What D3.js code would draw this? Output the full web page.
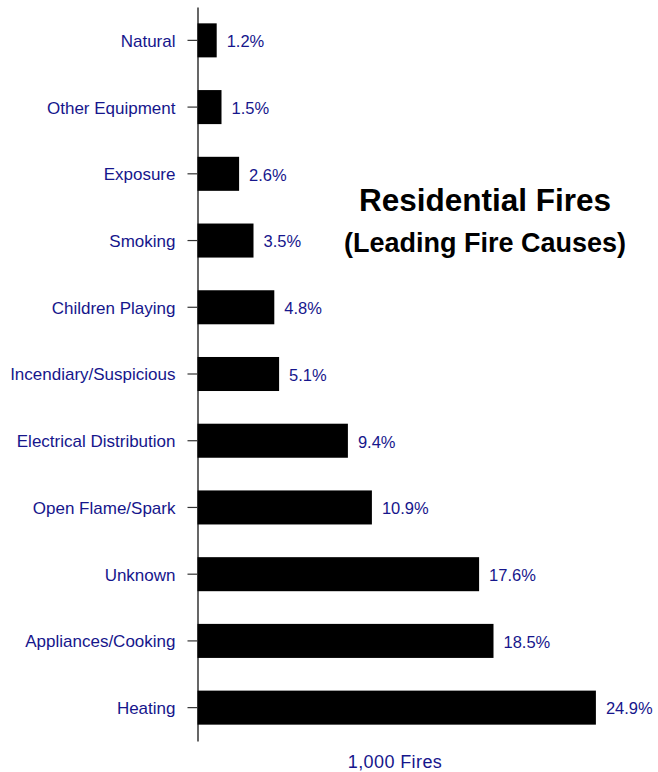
<!DOCTYPE html>
<html>
<head>
<meta charset="utf-8">
<script src="https://cdn.jsdelivr.net/npm/d3@7"></script>
<style>
  html, body { margin: 0; padding: 0; background: #ffffff; }
  svg { display: block; }
  text { font-family: "Liberation Sans", Arial, Helvetica, sans-serif; }
</style>
</head>
<body>
<svg id="chart" width="658" height="772"></svg>
<script>
const categories = ["Natural", "Other Equipment", "Exposure", "Smoking", "Children Playing",
  "Incendiary/Suspicious", "Electrical Distribution", "Open Flame/Spark", "Unknown",
  "Appliances/Cooking", "Heating"];
const values = [1.2, 1.5, 2.6, 3.5, 4.8, 5.1, 9.4, 10.9, 17.6, 18.5, 24.9];
const valueLabels = ["1.2%", "1.5%", "2.6%", "3.5%", "4.8%", "5.1%", "9.4%", "10.9%", "17.6%", "18.5%", "24.9%"];
const title = "Residential Fires";
const subtitle = "(Leading Fire Causes)";
const axisTitle = "1,000 Fires";

const navy = "#16168c";
const svg = d3.select("#chart");

const x = d3.scaleLinear().domain([0, 25]).range([197.5, 597.5]);
const y = d3.scaleBand().domain(categories).range([7, 741]).paddingInner(0.49).paddingOuter(0.245);

const data = categories.map((c, i) => ({ c, v: values[i], l: valueLabels[i] }));

svg.selectAll("rect.bar").data(data).join("rect")
  .attr("class", "bar")
  .attr("x", x(0))
  .attr("y", d => y(d.c))
  .attr("width", d => x(d.v) - x(0))
  .attr("height", y.bandwidth())
  .attr("fill", "#000");

svg.selectAll("text.val").data(data).join("text")
  .attr("class", "val")
  .attr("x", d => x(d.v) + 10)
  .attr("y", d => y(d.c) + y.bandwidth() / 2 + 1)
  .attr("dy", "0.35em")
  .attr("fill", navy)
  .attr("font-size", "16.5px")
  .text(d => d.l);

const axis = svg.append("g")
  .attr("transform", `translate(${x(0)},0)`)
  .call(d3.axisLeft(y).tickSize(10).tickSizeOuter(0).tickPadding(12));
axis.select(".domain").attr("stroke", "#000").attr("stroke-width", 1.2);
axis.selectAll(".tick line").attr("stroke", "#333").attr("stroke-width", 1.2);
axis.selectAll(".tick text")
  .attr("fill", navy)
  .attr("font-size", "17px")
  .attr("dy", "0.38em")
  .attr("font-family", "'Liberation Sans', Arial, sans-serif");

svg.append("text")
  .attr("x", 395).attr("y", 768)
  .attr("text-anchor", "middle")
  .attr("fill", navy)
  .attr("font-size", "18px")
  .attr("letter-spacing", "0.4px")
  .text(axisTitle);

svg.append("text")
  .attr("x", 485).attr("y", 211)
  .attr("text-anchor", "middle")
  .attr("font-weight", "bold")
  .attr("font-size", "31.5px")
  .attr("fill", "#000")
  .text(title);

svg.append("text")
  .attr("x", 485).attr("y", 252)
  .attr("text-anchor", "middle")
  .attr("font-weight", "bold")
  .attr("font-size", "27px")
  .attr("fill", "#000")
  .text(subtitle);
</script>
</body>
</html>
